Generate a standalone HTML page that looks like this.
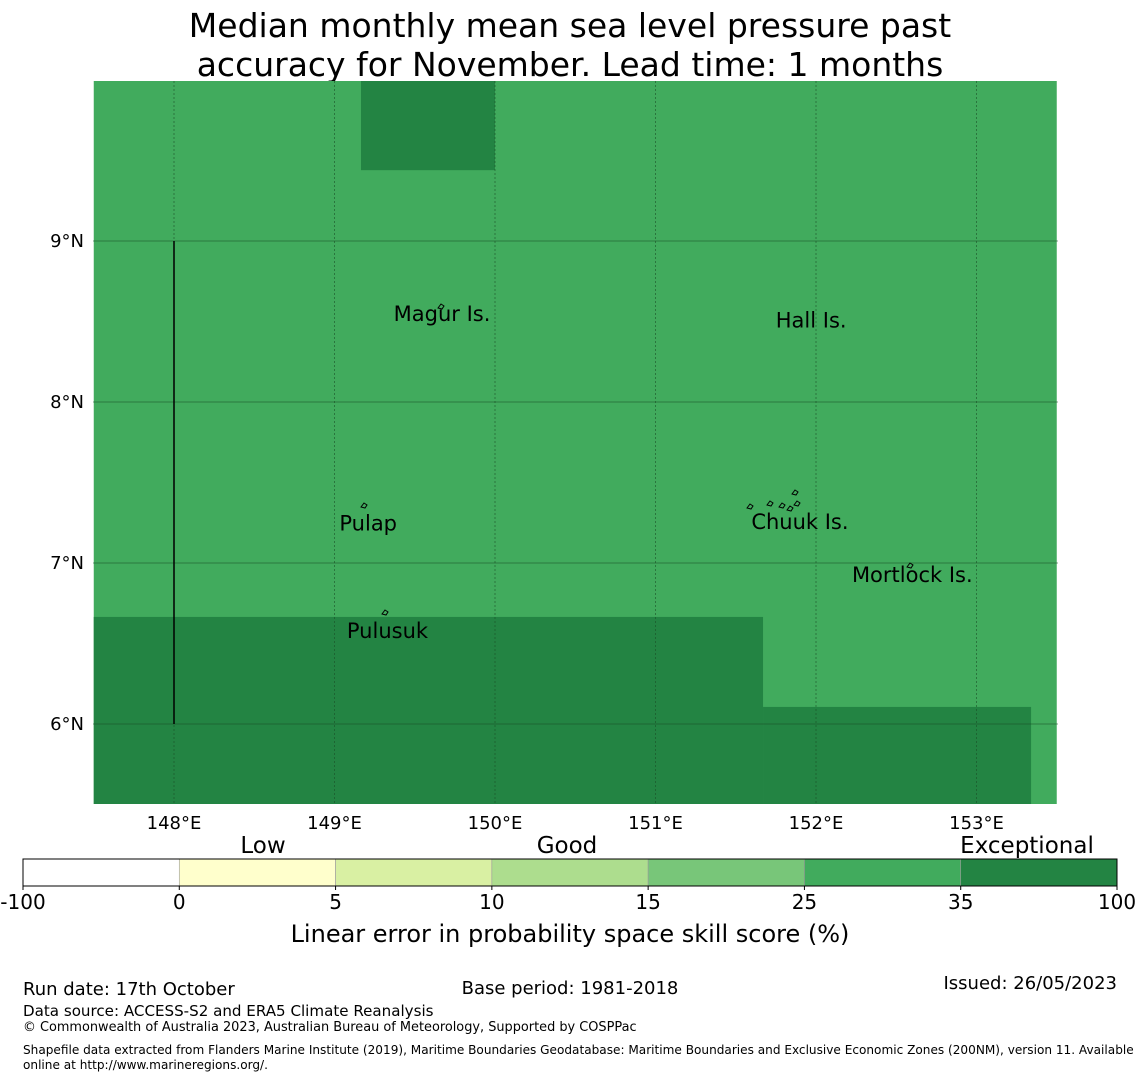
<!DOCTYPE html>
<html><head><meta charset="utf-8"><style>
body{margin:0;background:#fff;}
svg text{font-family:"DejaVu Sans","Liberation Sans",sans-serif;}
</style></head><body>
<svg id="chart" width="1140" height="1080" xmlns="http://www.w3.org/2000/svg">
<text x="570" y="37" font-size="33" text-anchor="middle">Median monthly mean sea level pressure past</text>
<text x="570" y="76" font-size="33" text-anchor="middle">accuracy for November. Lead time: 1 months</text>
<g id="map"></g>
<g id="cbar"></g>
<text x="570" y="942" font-size="24" text-anchor="middle">Linear error in probability space skill score (%)</text>
<text x="23" y="995" font-size="18">Run date: 17th October</text>
<text x="570" y="994" font-size="18" text-anchor="middle">Base period: 1981-2018</text>
<text x="1117" y="989" font-size="18" text-anchor="end">Issued: 26/05/2023</text>
<text x="23" y="1016" font-size="15.1">Data source: ACCESS-S2 and ERA5 Climate Reanalysis</text>
<text x="23" y="1031" font-size="12.9">© Commonwealth of Australia 2023, Australian Bureau of Meteorology, Supported by COSPPac</text>
<text x="23" y="1054" font-size="12.1">Shapefile data extracted from Flanders Marine Institute (2019), Maritime Boundaries Geodatabase: Maritime Boundaries and Exclusive Economic Zones (200NM), version 11. Available</text>
<text x="23" y="1069" font-size="12.1">online at http://www.marineregions.org/.</text>
</svg>
<script>
const NS="http://www.w3.org/2000/svg";
const cellLon0=[147.5,149.165,147.5,151.67];
const cellLon1=[153.5,150.0,151.67,153.34];
const cellLat0=[5.5,9.44,5.5,5.5];
const cellLat1=[10.0,10.0,6.665,6.106];
const cellSkill=[30,40,40,40];
const lonTicks=[148,149,150,151,152,153];
const latTicks=[6,7,8,9];
const places=["Magur Is.","Hall Is.","Pulap","Chuuk Is.","Mortlock Is.","Pulusuk"];
const placeLon=[149.67,151.97,149.21,151.9,152.6,149.33];
const placeLat=[8.54,8.5,7.24,7.25,6.92,6.57];
const bounds=[-100,0,5,10,15,25,35,100];
const colors=["#ffffff","#ffffcc","#d9f0a3","#addd8e","#78c679","#41ab5d","#238443"];
const X=lon=>93.75+(lon-147.5)*160.5;
const Y=lat=>241+(9-lat)*161;
function mk(t,a,p){const e=document.createElementNS(NS,t);for(const k in a)e.setAttribute(k,a[k]);(p||map).appendChild(e);return e;}
const map=document.getElementById('map');
const clip=mk('clipPath',{id:'mc'});mk('rect',{x:93,y:81,width:965,height:723},clip);
map.setAttribute('clip-path','url(#mc)');
function col(v){for(let i=0;i<colors.length;i++)if(v<bounds[i+1])return colors[i];return colors[colors.length-1];}
for(let i=0;i<cellSkill.length;i++){
 const r=mk('rect',{x:X(cellLon0[i]),y:Y(cellLat1[i]),width:X(cellLon1[i])-X(cellLon0[i]),height:Y(cellLat0[i])-Y(cellLat1[i]),fill:col(cellSkill[i])});
 
 
}
const svg=document.getElementById('chart');
lonTicks.forEach(l=>{
 const g=mk('line',{x1:X(l),x2:X(l),y1:81,y2:804,stroke:'#1a4d26','stroke-width':0.8,'stroke-dasharray':'2,2',opacity:0.7});
 
 
 const t=mk('text',{x:X(l),y:829,'font-size':18,'text-anchor':'middle'},svg);t.textContent=l+'°E';
 
 
});
latTicks.forEach(l=>{
 const g=mk('line',{x1:93,x2:1058,y1:Y(l),y2:Y(l),stroke:'#1a4d26','stroke-width':0.8,opacity:0.7});
 
 
 const t=mk('text',{x:84,y:Y(l)+6,'font-size':18,'text-anchor':'end'},svg);t.textContent=l+'°N';
 
 
});
const bl=mk('line',{x1:X(148),x2:X(148),y1:Y(9),y2:Y(6),stroke:'#000','stroke-width':1.5});


[[441,306],[364,505],[385,612],[910,565],[795,492],[750,506],[770,503],[790,508],[782,505],[797,503]].forEach(p=>{
 const e=mk('path',{d:`M${p[0]-3},${p[1]+2} l3,-4 l3,2 l-2,3 z`,fill:'none',stroke:'#000','stroke-width':1});
 
 
});
places.forEach((n,i)=>{
 const t=mk('text',{x:X(placeLon[i]),y:Y(placeLat[i])+6,'font-size':21,'text-anchor':'middle'});t.textContent=n;
 
 
});
const cb=document.getElementById('cbar');
const w=(1117-23)/colors.length;
colors.forEach((c,i)=>{
 const r=mk('rect',{x:23+i*w,y:859,width:w,height:27,fill:c,stroke:'#999','stroke-width':0.6},cb);
 
 
});
mk('rect',{x:23,y:859,width:1094,height:27,fill:'none',stroke:'#000','stroke-width':1},cb);
bounds.forEach((b,i)=>{
 mk('line',{x1:23+i*w,x2:23+i*w,y1:886,y2:890,stroke:'#000'},cb);
 const t=mk('text',{x:23+i*w,y:909,'font-size':20,'text-anchor':'middle'},cb);t.textContent=b;
 
 
});
[['Low',263],['Good',567],['Exceptional',1027]].forEach(a=>{
 const t=mk('text',{x:a[1],y:853,'font-size':23,'text-anchor':'middle'},cb);t.textContent=a[0];
 
 
});
</script>
</body></html>
